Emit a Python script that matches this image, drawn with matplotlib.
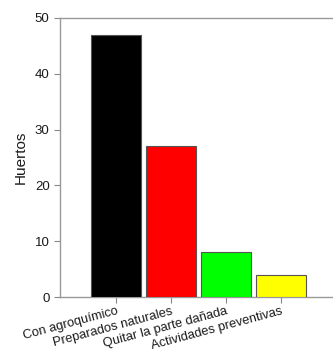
import matplotlib.pyplot as plt

plt.rcParams['font.family'] = ['Liberation Sans', 'DejaVu Sans']

categorias = ['Con agroquímico', 'Preparados naturales', 'Quitar la parte dañada', 'Actividades preventivas']
huertos = [47, 27, 8, 4]
colores = ['#000000', '#FF0000', '#00FF00', '#FFFF00']

fig = plt.figure(figsize=(3.33, 3.52), dpi=100)
ax = fig.add_axes([60 / 333, 1 - 297 / 352, 1 - 60 / 333, (297 - 18) / 352])

x = range(len(categorias))
ax.bar(x, huertos, width=0.91, color=colores, edgecolor='#555555', linewidth=0.8, zorder=3)

ax.set_xlim(-1.018, 3.945)
ax.set_ylim(0, 50)
ax.set_yticks([0, 10, 20, 30, 40, 50])
ax.set_xticks(list(x))
ax.set_xticklabels(categorias, rotation=15, ha='right', rotation_mode='anchor', fontsize=9.3)
ax.tick_params(axis='y', labelsize=9.5, colors='#888888', labelcolor='#1a1a1a', length=4, width=0.8)
ax.tick_params(axis='x', colors='#888888', labelcolor='#1a1a1a', length=4, width=0.8, pad=2)
ax.set_ylabel('Huertos', fontsize=11, color='#1a1a1a', labelpad=5)

for s in ['left', 'top', 'bottom']:
    ax.spines[s].set_color('#999999')
    ax.spines[s].set_linewidth(1.0)
ax.spines['right'].set_visible(False)

fig.savefig('out.png', dpi=100)
